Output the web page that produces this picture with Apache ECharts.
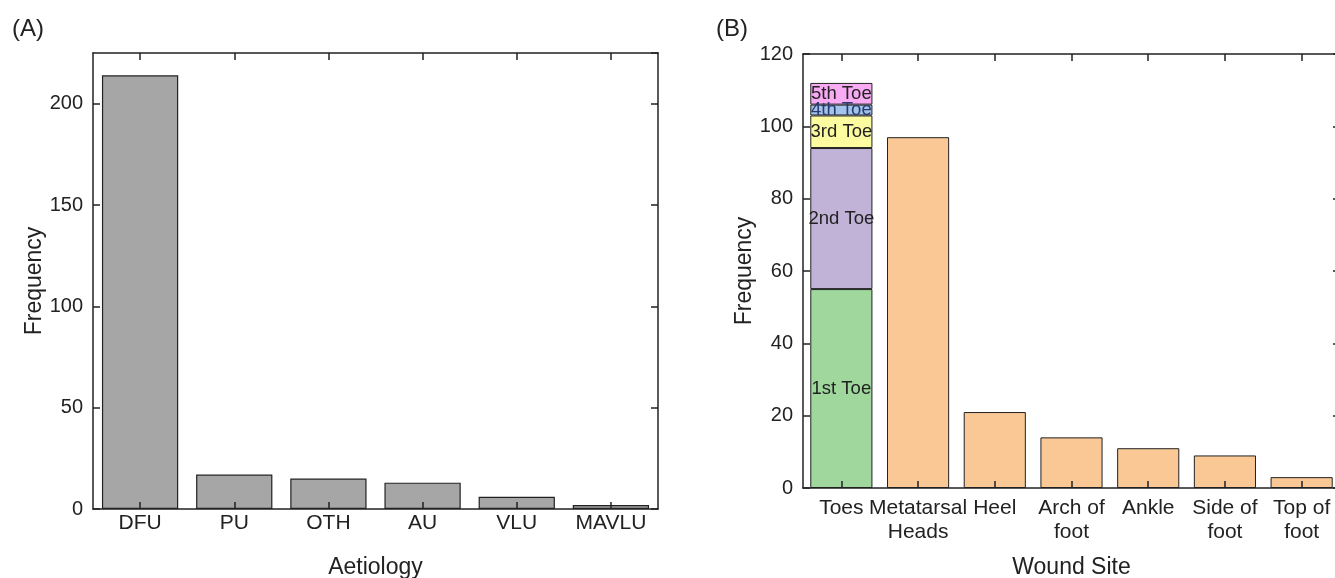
<!DOCTYPE html>
<html>
<head>
<meta charset="utf-8">
<script src="https://cdn.jsdelivr.net/npm/echarts@6/dist/echarts.min.js"></script>
<style>
  html, body { margin: 0; padding: 0; background: #fff; }
  #chart { width: 1335px; height: 578px; }
</style>
</head>
<body>
<div id="chart"></div>
<script>
// panel A: aetiology
const aetiologies = ['DFU', 'PU', 'OTH', 'AU', 'VLU', 'MAVLU'];
const aetiologyCounts = [214, 17, 15, 13, 6, 2];

// panel B: wound site
const woundSites = ['Toes', 'Metatarsal\nHeads', 'Heel', 'Arch of\nfoot', 'Ankle', 'Side of\nfoot', 'Top of\nfoot'];
const siteCounts = ['-', 97, 21, 14, 11, 9, 3];
const toeNames = ['1st Toe', '2nd Toe', '3rd Toe', '4th Toe', '5th Toe'];
const toeCounts = [55, 39, 9, 3, 6];
const toeColors = ['#9fd79c', '#c1b3d8', '#fdfba0', '#a2c4ea', '#f8aaf3'];

const font = 'Liberation Sans, Arial, sans-serif';
const ink = '#222';

function catAxis(grid, data, pos, opts) {
    return Object.assign({
        type: 'category', gridIndex: grid, data: data, position: pos, z: 10,
        axisLine: { onZero: false, lineStyle: { color: ink, width: 1.5 } },
        axisTick: { show: true, interval: 0, inside: true, alignWithLabel: true, length: 7, lineStyle: { color: ink, width: 1.5 } },
        axisLabel: { show: false },
        splitLine: { show: false }
    }, opts || {});
}

function valAxis(grid, max, interval, pos, opts) {
    return Object.assign({
        type: 'value', gridIndex: grid, min: 0, max: max, interval: interval, position: pos, z: 10,
        axisLine: { show: true, onZero: false, lineStyle: { color: ink, width: 1.5 } },
        axisTick: { show: true, inside: true, length: 7, lineStyle: { color: ink, width: 1.5 } },
        axisLabel: { show: pos === 'left', showMaxLabel: max % interval === 0, color: ink, fontFamily: font, fontSize: 20, margin: 10 },
        splitLine: { show: false }
    }, opts || {});
}

const nameStyle = { color: ink, fontFamily: font, fontSize: 23 };

let series = [{
    type: 'bar', xAxisIndex: 0, yAxisIndex: 0,
    data: aetiologyCounts,
    barCategoryGap: '19%',
    itemStyle: { color: '#a6a6a6', borderColor: ink, borderWidth: 1.2 }
}];

toeNames.forEach((name, i) => {
    series.push({
        type: 'bar', name: name, xAxisIndex: 2, yAxisIndex: 2, stack: 'site',
        data: woundSites.map((s, j) => j === 0 ? toeCounts[i] : '-'),
        barCategoryGap: '19%',
        itemStyle: { color: toeColors[i], borderColor: ink, borderWidth: 1 },
        label: { show: true, position: 'inside', formatter: '{a}', color: i === 3 ? '#2a3a70' : ink, fontFamily: font, fontSize: 18.5 }
    });
});
series.push({
    type: 'bar', name: 'Site', xAxisIndex: 2, yAxisIndex: 2, stack: 'site',
    data: siteCounts,
    barCategoryGap: '19%',
    itemStyle: { color: '#f9c895', borderColor: ink, borderWidth: 1 }
});

const catLabel = { show: true, color: ink, fontFamily: font, fontSize: 21, interval: 0 };

const option = {
    animation: false,
    backgroundColor: '#fff',
    title: [
        { text: '(A)', left: 7, top: 12, textStyle: { color: ink, fontFamily: font, fontSize: 24, fontWeight: 'normal' } },
        { text: '(B)', left: 711, top: 12, textStyle: { color: ink, fontFamily: font, fontSize: 24, fontWeight: 'normal' } }
    ],
    grid: [
        { left: 93, top: 53, width: 565, height: 456, outerBoundsMode: 'none', containLabel: false },
        { left: 803, top: 54, width: 537, height: 434, outerBoundsMode: 'none', containLabel: false }
    ],
    xAxis: [
        catAxis(0, aetiologies, 'bottom', { name: 'Aetiology', nameLocation: 'middle', nameGap: 47, nameTextStyle: nameStyle, axisLabel: Object.assign({}, catLabel, { margin: 4 }) }),
        catAxis(0, aetiologies, 'top'),
        catAxis(1, woundSites, 'bottom', { name: 'Wound Site', nameLocation: 'middle', nameGap: 68, nameTextStyle: nameStyle, axisLabel: Object.assign({}, catLabel, { margin: 8, lineHeight: 24 }) }),
        catAxis(1, woundSites, 'top')
    ],
    yAxis: [
        valAxis(0, 225, 50, 'left', { name: 'Frequency', nameLocation: 'middle', nameGap: 47, nameTextStyle: nameStyle }),
        valAxis(0, 225, 50, 'right'),
        valAxis(1, 120, 20, 'left', { name: 'Frequency', nameLocation: 'middle', nameGap: 47, nameTextStyle: nameStyle }),
        valAxis(1, 120, 20, 'right')
    ],
    series: series
};

const chart = echarts.init(document.getElementById('chart'));
chart.setOption(option);
</script>
</body>
</html>
